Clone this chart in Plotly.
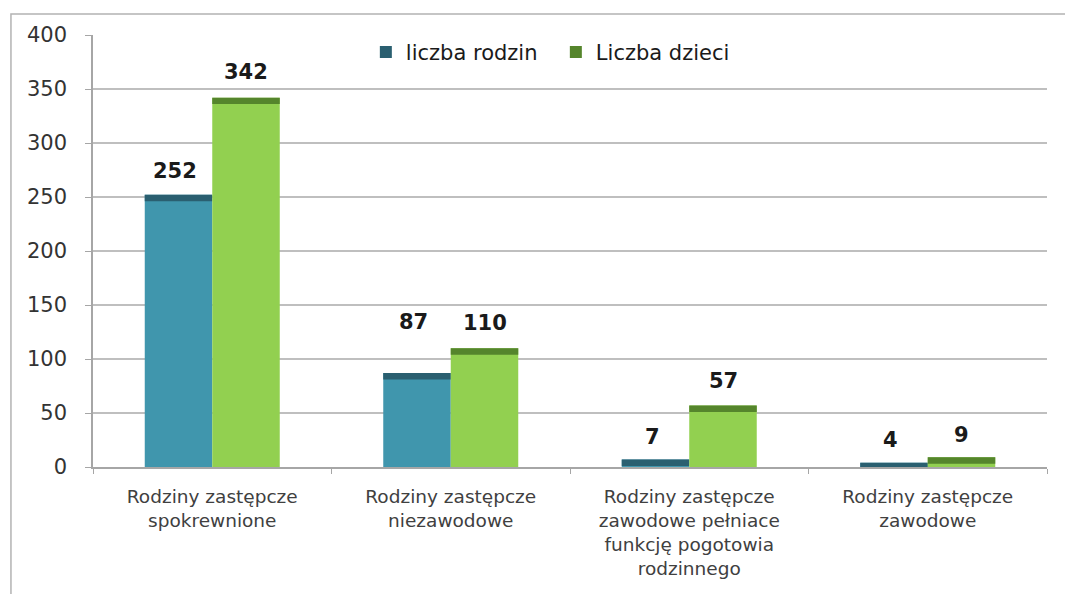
import plotly.graph_objects as go

categories = [
    "Rodziny zastępcze<br>spokrewnione",
    "Rodziny zastępcze<br>niezawodowe",
    "Rodziny zastępcze<br>zawodowe pełniace<br>funkcję pogotowia<br>rodzinnego",
    "Rodziny zastępcze<br>zawodowe",
]
liczba_rodzin = [252, 87, 7, 4]
liczba_dzieci = [342, 110, 57, 9]
series_names = ["liczba rodzin", "Liczba dzieci"]
y_ticks = [0, 50, 100, 150, 200, 250, 300, 350, 400]

label_shift_rodzin = [24, 51, 22, 23]
label_shift_dzieci = [26, 25, 24, 22]

BLUE = "#4096ad"
BLUE_DARK = "#2a5f70"
GREEN = "#92d050"
GREEN_DARK = "#55852c"
BAND = 6

fig = go.Figure()

def add_series(vals, color, dark, name, group):
    fig.add_trace(go.Bar(
        x=categories, y=vals, name=name, offsetgroup=group,
        marker=dict(color=color, line=dict(width=0)), showlegend=False,
        hoverinfo="skip",
    ))
    band = [min(v, BAND) for v in vals]
    base = [v - b for v, b in zip(vals, band)]
    fig.add_trace(go.Bar(
        x=categories, y=band, base=base, name=name, offsetgroup=group,
        marker=dict(color=dark, line=dict(width=0)), showlegend=True,
    ))

add_series(liczba_rodzin, BLUE, BLUE_DARK, series_names[0], "a")
add_series(liczba_dzieci, GREEN, GREEN_DARK, series_names[1], "b")

for vals, shifts, xs in ((liczba_rodzin, label_shift_rodzin, -37), (liczba_dzieci, label_shift_dzieci, 34)):
    for c, v, s in zip(categories, vals, shifts):
        fig.add_annotation(
            x=c, y=v, text=f"<b>{v}</b>", showarrow=False,
            xshift=xs, yshift=s, yanchor="middle",
            font=dict(family="DejaVu Sans", size=21, color="#1a1a1a"),
        )

fig.add_shape(
    type="path", xref="paper", yref="paper",
    path="M 1.05,1.0486 L -0.086,1.0486 L -0.086,-0.32",
    line=dict(color="#b3b3b3", width=1.5),
)

fig.update_layout(
    width=1073, height=594,
    margin=dict(l=85, r=34, t=27, b=135),
    paper_bgcolor="white", plot_bgcolor="white",
    barmode="group", bargap=0.434, bargroupgap=0,
    legend=dict(
        orientation="h", x=0.286, y=0.96, xanchor="left", yanchor="middle",
        font=dict(family="DejaVu Sans", size=21, color="#1a1a1a"),
        bgcolor="rgba(0,0,0,0)", entrywidth=145, entrywidthmode="pixels",
    ),
    xaxis=dict(
        type="category", showline=True, linecolor="#a6a6a6", linewidth=1.5,
        ticks="outside", tickson="boundaries", ticklen=5, tickcolor="#a6a6a6",
        tickfont=dict(family="DejaVu Sans", size=18.5, color="#404040"),
        ticklabelstandoff=12,
    ),
    yaxis=dict(
        range=[0, 400], tickvals=y_ticks, showline=True, linecolor="#a6a6a6",
        linewidth=1.5, ticks="outside", ticklen=6, tickcolor="#a6a6a6",
        gridcolor="#bfbfbf", gridwidth=1.5, zeroline=False,
        tickfont=dict(family="DejaVu Sans", size=21, color="#333333"),
        ticklabelstandoff=14,
    ),
)

fig.write_html("out.html")
